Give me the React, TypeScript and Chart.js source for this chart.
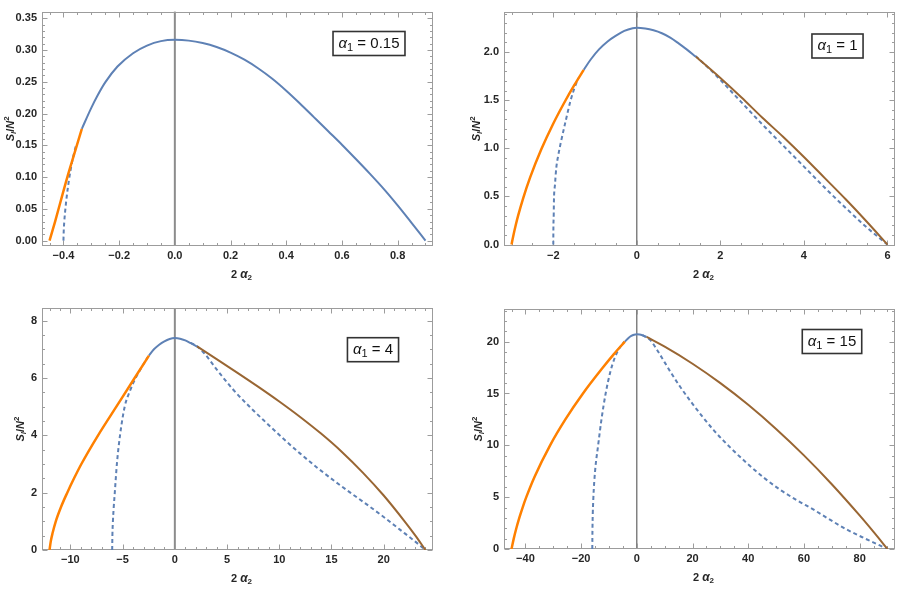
import React, { useEffect, useRef } from "react";
import { Chart, registerables } from "chart.js";
Chart.register(...registerables);

type Pt = [number, number];

// ---------------- data ----------------
// Panel 1: alpha1 = 0.15
const p1Blue: Pt[] = [[-0.334,0.176],[-0.3,0.209],[-0.278,0.228],[-0.25,0.249],[-0.206,0.274],[-0.15,0.295],[-0.1,0.307],[-0.05,0.314],[0,0.316],[0.05,0.3148],[0.1,0.311],[0.15,0.3048],[0.2,0.296],[0.25,0.2848],[0.3,0.271],[0.35,0.2548],[0.4,0.236],[0.45,0.2155],[0.5,0.194],[0.55,0.1725],[0.6,0.151],[0.65,0.1285],[0.7,0.1055],[0.75,0.0815],[0.8,0.0555],[0.85,0.028],[0.9,0]];
const p1Orange: Pt[] = [[-0.45,0],[-0.43,0.03],[-0.41,0.062],[-0.386,0.1],[-0.36,0.138],[-0.334,0.176]];
const p1DashedL: Pt[] = [[-0.4,0],[-0.399,0.015],[-0.397,0.03],[-0.393,0.05],[-0.388,0.07],[-0.381,0.093],[-0.374,0.112],[-0.366,0.13],[-0.356,0.148]];

// Panel 2: alpha1 = 1
const p2Blue: Pt[] = [[-1.272,1.815],[-1.1,1.925],[-0.9,2.03],[-0.7,2.11],[-0.5,2.17],[-0.3,2.22],[-0.1,2.248],[0,2.253],[0.2,2.245],[0.4,2.226],[0.6,2.195],[0.8,2.15],[1.0,2.09],[1.2,2.025],[1.416,1.95]];
const p2Orange: Pt[] = [[-3,0],[-2.953,0.1],[-2.9,0.2],[-2.842,0.3],[-2.72,0.483],[-2.552,0.7],[-2.287,0.989],[-2.008,1.25],[-1.712,1.494],[-1.505,1.65],[-1.272,1.815]];
const p2Brown: Pt[] = [[1.416,1.95],[2,1.73],[2.5,1.53],[3,1.32],[3.5,1.12],[4,0.91],[4.5,0.69],[5,0.47],[5.5,0.24],[6,0]];
const p2DashedL: Pt[] = [[-2,0],[-1.998,0.15],[-1.99,0.3],[-1.985,0.45],[-1.96,0.62],[-1.93,0.79],[-1.88,0.93],[-1.82,1.06],[-1.7,1.29],[-1.59,1.49],[-1.49,1.63],[-1.4,1.73]];
const p2DashedR: Pt[] = [[1.4,1.96],[1.8,1.8],[2,1.71],[2.5,1.48],[3,1.25],[3.5,1.03],[4,0.81],[4.5,0.59],[5,0.38],[5.5,0.18],[5.8,0.07],[6,0]];

// Panel 3: alpha1 = 4
const p3Blue: Pt[] = [[-2.48,6.78],[-2,7.0],[-1.5,7.16],[-1,7.28],[-0.5,7.36],[0,7.39],[0.5,7.37],[1,7.31],[1.5,7.22],[2.13,7.1]];
const p3Orange: Pt[] = [[-12,0],[-11.88,0.3],[-11.7,0.6],[-11.4,1],[-10.9,1.5],[-10.3,2],[-9.65,2.5],[-8.95,3],[-7.35,4],[-5.6,5],[-3.85,6],[-2.48,6.78]];
const p3Brown: Pt[] = [[2.13,7.1],[4,6.66],[6,6.18],[8,5.69],[10,5.18],[12,4.64],[14,4.06],[16,3.42],[18,2.7],[20,1.9],[22,1.0],[23,0.52],[24,0]];
const p3DashedL: Pt[] = [[-6,0],[-5.98,0.5],[-5.93,1],[-5.85,1.5],[-5.75,2],[-5.55,3],[-5.25,4],[-4.8,5],[-4.3,5.55],[-3.75,6],[-3.1,6.42],[-2.6,6.72]];
const p3DashedR: Pt[] = [[1.5,7.22],[2.13,7.1],[2.77,6.88],[4,6.3],[5.62,5.58],[7.2,4.98],[8.81,4.42],[10.4,3.88],[11.98,3.37],[13.6,2.88],[15.16,2.44],[16.8,2.0],[18.34,1.6],[20,1.15],[21.52,0.72],[23,0.3],[24,0]];

// Panel 4: alpha1 = 15
const p4Blue: Pt[] = [[-4.3,20.0],[-3,20.35],[-2,20.55],[-1,20.67],[0,20.72],[1,20.7],[2,20.62],[3.5,20.45]];
const p4Orange: Pt[] = [[-45,0],[-44.2,1],[-43.27,2],[-42.21,3],[-41.02,4],[-39.7,5],[-36.67,7],[-31.15,10],[-25.66,12.5],[-19.35,15],[-12.2,17.5],[-8.25,18.8],[-4.3,20]];
const p4Brown: Pt[] = [[3.5,20.45],[10,19.51],[20,17.87],[30,16.0],[40,13.91],[50,11.58],[60,9.03],[70,6.25],[80,3.24],[85,1.65],[90,0]];
const p4DashedL: Pt[] = [[-16,0],[-15.97,1],[-15.9,2.5],[-15.6,5],[-15,7.5],[-13.9,10],[-12.7,12.5],[-11.2,15],[-9.6,17],[-8,18.4],[-6.2,19.4],[-4.5,20]];
const p4DashedR: Pt[] = [[2,20.62],[3.5,20.4],[5,20.1],[7.5,19.1],[10,18.0],[12.5,16.9],[15.5,15.67],[20,14.0],[27.5,11.49],[33.5,9.8],[39.5,8.28],[45.5,6.9],[51.5,5.71],[57.5,4.7],[63.5,3.79],[69.5,2.8],[75.5,1.86],[82,1.0],[86,0.5],[90,0]];

// tick values and labels
const p1XTicks = [-0.4, -0.2, 0, 0.2, 0.4, 0.6, 0.8];
const p1XLabels = ["−0.4", "−0.2", "0.0", "0.2", "0.4", "0.6", "0.8"];
const p1YTicks = [0, 0.05, 0.1, 0.15, 0.2, 0.25, 0.3, 0.35];
const p1YLabels = ["0.00", "0.05", "0.10", "0.15", "0.20", "0.25", "0.30", "0.35"];
const p2XTicks = [-2, 0, 2, 4, 6];
const p2XLabels = ["−2", "0", "2", "4", "6"];
const p2YTicks = [0, 0.5, 1, 1.5, 2];
const p2YLabels = ["0.0", "0.5", "1.0", "1.5", "2.0"];
const p3XTicks = [-10, -5, 0, 5, 10, 15, 20];
const p3XLabels = ["−10", "−5", "0", "5", "10", "15", "20"];
const p3YTicks = [0, 2, 4, 6, 8];
const p3YLabels = ["0", "2", "4", "6", "8"];
const p4XTicks = [-40, -20, 0, 20, 40, 60, 80];
const p4XLabels = ["−40", "−20", "0", "20", "40", "60", "80"];
const p4YTicks = [0, 5, 10, 15, 20];
const p4YLabels = ["0", "5", "10", "15", "20"];

const alphaLabels = ["0.15", "1", "4", "15"];

// ---------------- styling ----------------
const BLUE = "#5E81B5";
const ORANGE = "#FF8000";
const BROWN = "#996633";
const FRAME = "#9c9c9c";
const TEXT = "#262626";
const FAM = '"Liberation Sans", Arial, sans-serif';

interface PanelCfg {
  left: number; top: number; width: number; height: number;
  area: { l: number; r: number; t: number; b: number };
  xRange: [number, number]; yRange: [number, number];
  xTicks: number[]; xLabels: string[]; xMinor: number;
  yTicks: number[]; yLabels: string[]; yMinor: number;
  alpha: string; box: [number, number]; yTitleX: number;
  zero: { color: string; width: number };
  blue: Pt[]; orange: Pt[]; brown?: Pt[]; dashed: Pt[][];
}

const panels: PanelCfg[] = [
  {
    left: 0, top: 0, width: 447, height: 290,
    area: { l: 42, r: 433, t: 5, b: 246 },
    xRange: [-0.477, 0.927], yRange: [-0.0085, 0.3605],
    xTicks: p1XTicks, xLabels: p1XLabels, xMinor: 0.05,
    yTicks: p1YTicks, yLabels: p1YLabels, yMinor: 0.01,
    alpha: alphaLabels[0], box: [369, 43.5], yTitleX: 11,
    zero: { color: "#8c8c8c", width: 2 },
    blue: p1Blue, orange: p1Orange, dashed: [p1DashedL],
  },
  {
    left: 447, top: 0, width: 450, height: 290,
    area: { l: 57, r: 448, t: 5, b: 246 },
    xRange: [-3.18, 6.18], yRange: [-0.015, 2.42],
    xTicks: p2XTicks, xLabels: p2XLabels, xMinor: 0.5,
    yTicks: p2YTicks, yLabels: p2YLabels, yMinor: 0.1,
    alpha: alphaLabels[1], box: [390.5, 46], yTitleX: 30,
    zero: { color: "#444444", width: 1 },
    blue: p2Blue, orange: p2Orange, brown: p2Brown, dashed: [p2DashedL, p2DashedR],
  },
  {
    left: 0, top: 290, width: 447, height: 301,
    area: { l: 42, r: 433, t: 18, b: 260 },
    xRange: [-12.72, 24.72], yRange: [0, 8.44],
    xTicks: p3XTicks, xLabels: p3XLabels, xMinor: 1,
    yTicks: p3YTicks, yLabels: p3YLabels, yMinor: 0.5,
    alpha: alphaLabels[2], box: [373, 59.7], yTitleX: 20.5,
    zero: { color: "#8c8c8c", width: 2 },
    blue: p3Blue, orange: p3Orange, brown: p3Brown, dashed: [p3DashedL, p3DashedR],
  },
  {
    left: 447, top: 290, width: 450, height: 301,
    area: { l: 57, r: 448, t: 19, b: 259 },
    xRange: [-47.7, 92.7], yRange: [0, 23.15],
    xTicks: p4XTicks, xLabels: p4XLabels, xMinor: 5,
    yTicks: p4YTicks, yLabels: p4YLabels, yMinor: 1,
    alpha: alphaLabels[3], box: [385, 51.5], yTitleX: 31.5,
    zero: { color: "#444444", width: 1 },
    blue: p4Blue, orange: p4Orange, brown: p4Brown, dashed: [p4DashedL, p4DashedR],
  },
];

type Run = { t: string; font: string; dy?: number };

function drawRuns(ctx: CanvasRenderingContext2D, runs: Run[], x: number, y: number) {
  let total = 0;
  for (const r of runs) { ctx.font = r.font; total += ctx.measureText(r.t).width; }
  let cx = x - total / 2;
  ctx.textBaseline = "middle";
  ctx.textAlign = "left";
  for (const r of runs) {
    ctx.font = r.font;
    ctx.fillText(r.t, cx, y + (r.dy || 0));
    cx += ctx.measureText(r.t).width;
  }
  return total;
}

function minorValues(min: number, max: number, step: number): number[] {
  const out: number[] = [];
  const start = Math.ceil(min / step - 1e-9);
  const end = Math.floor(max / step + 1e-9);
  for (let i = start; i <= end; i++) out.push(i * step);
  return out;
}

function makePlugin(cfg: PanelCfg) {
  return {
    id: "mmaFrame",
    beforeDatasetsDraw(chart: any) {
      const ctx: CanvasRenderingContext2D = chart.ctx;
      const { left, right, top, bottom } = chart.chartArea;
      const xs = chart.scales.x;
      const ys = chart.scales.y;
      ctx.save();
      // axis at x = 0
      const x0 = xs.getPixelForValue(0);
      ctx.strokeStyle = cfg.zero.color;
      ctx.lineWidth = cfg.zero.width;
      ctx.beginPath();
      ctx.moveTo(x0, top);
      ctx.lineTo(x0, bottom);
      ctx.stroke();
      // frame
      ctx.strokeStyle = FRAME;
      ctx.lineWidth = 1;
      const L = Math.round(left) + 0.5, R = Math.round(right) - 0.5;
      const T = Math.round(top) + 0.5, B = Math.round(bottom) - 0.5;
      ctx.strokeRect(L, T, R - L, B - T);
      // ticks on all four sides, pointing inward
      ctx.beginPath();
      const major = 5, minor = 2.5;
      const isMajor = (v: number, arr: number[]) => arr.some((m) => Math.abs(m - v) < 1e-9);
      for (const v of minorValues(cfg.xRange[0], cfg.xRange[1], cfg.xMinor)) {
        const len = isMajor(v, cfg.xTicks) ? major : minor;
        const px = Math.round(xs.getPixelForValue(v)) + 0.5;
        ctx.moveTo(px, B); ctx.lineTo(px, B - len);
        ctx.moveTo(px, T); ctx.lineTo(px, T + len);
      }
      for (const v of minorValues(cfg.yRange[0], cfg.yRange[1], cfg.yMinor)) {
        const len = isMajor(v, cfg.yTicks) ? major : minor;
        const py = Math.round(ys.getPixelForValue(v)) + 0.5;
        ctx.moveTo(L, py); ctx.lineTo(L + len, py);
        ctx.moveTo(R, py); ctx.lineTo(R - len, py);
      }
      ctx.stroke();
      ctx.restore();
    },
    afterDraw(chart: any) {
      const ctx: CanvasRenderingContext2D = chart.ctx;
      const { left, right, top, bottom } = chart.chartArea;
      ctx.save();
      ctx.fillStyle = TEXT;
      // y title  S_I / N^2
      ctx.save();
      ctx.translate(cfg.yTitleX, (top + bottom) / 2);
      ctx.rotate(-Math.PI / 2);
      drawRuns(ctx, [
        { t: "S", font: `italic bold 11px ${FAM}` },
        { t: "I", font: `italic bold 8px ${FAM}`, dy: 3 },
        { t: "/", font: `bold 11px ${FAM}` },
        { t: "N", font: `italic bold 11px ${FAM}` },
        { t: "2", font: `bold 8px ${FAM}`, dy: -4 },
      ], 0, 0);
      ctx.restore();
      // x title  2 alpha_2
      drawRuns(ctx, [
        { t: "2 ", font: `bold 11px ${FAM}` },
        { t: "α", font: `italic bold 12px ${FAM}` },
        { t: "2", font: `bold 8px ${FAM}`, dy: 3 },
      ], (left + right) / 2 + 4, bottom + 28.5);
      // label box
      const runs: Run[] = [
        { t: "α", font: `italic 15px ${FAM}` },
        { t: "1", font: `11px ${FAM}`, dy: 4 },
        { t: " = " + cfg.alpha, font: `15px ${FAM}` },
      ];
      let w = 0;
      for (const r of runs) { ctx.font = r.font; w += ctx.measureText(r.t).width; }
      const bw = w + 11, bh = 24;
      const [cx, cy] = cfg.box;
      ctx.fillStyle = "#ffffff";
      ctx.fillRect(cx - bw / 2, cy - bh / 2, bw, bh);
      ctx.strokeStyle = "#333333";
      ctx.lineWidth = 1.6;
      ctx.strokeRect(cx - bw / 2, cy - bh / 2, bw, bh);
      ctx.fillStyle = "#111111";
      drawRuns(ctx, runs, cx, cy);
      ctx.restore();
    },
  };
}

function lineDs(pts: Pt[], color: string, width: number, dash: number[], order: number) {
  return {
    data: pts.map(([x, y]) => ({ x, y })),
    showLine: true,
    borderColor: color,
    backgroundColor: color,
    borderWidth: width,
    borderDash: dash,
    borderCapStyle: "butt",
    borderJoinStyle: "round",
    pointRadius: 0,
    pointHoverRadius: 0,
    cubicInterpolationMode: "monotone",
    fill: false,
    order,
  };
}

function Panel({ cfg }: { cfg: PanelCfg }) {
  const ref = useRef<HTMLCanvasElement | null>(null);
  useEffect(() => {
    if (!ref.current) return;
    const datasets: any[] = [];
    for (const d of cfg.dashed) datasets.push(lineDs(d, BLUE, 2, [4, 3], 3));
    datasets.push(lineDs(cfg.blue, BLUE, 2, [], 2));
    datasets.push(lineDs(cfg.orange, ORANGE, 2.5, [], 1));
    if (cfg.brown) datasets.push(lineDs(cfg.brown, BROWN, 2, [], 1));
    const tickFont = { family: FAM, size: 11, weight: "bold" as const };
    const chart = new Chart(ref.current, {
      type: "scatter",
      data: { datasets },
      options: {
        animation: false,
        responsive: false,
        maintainAspectRatio: false,
        events: [],
        layout: {
          autoPadding: false,
          padding: { left: 0, top: cfg.area.t, right: cfg.width - cfg.area.r, bottom: 0 },
        },
        plugins: { legend: { display: false }, tooltip: { enabled: false }, title: { display: false } },
        scales: {
          x: {
            type: "linear",
            min: cfg.xRange[0],
            max: cfg.xRange[1],
            grid: { display: false, drawTicks: false },
            border: { display: false },
            ticks: {
              font: tickFont, color: TEXT, padding: 3, autoSkip: false, maxRotation: 0,
              callback: (v: any) => cfg.xLabels[cfg.xTicks.findIndex((t) => Math.abs(t - v) < 1e-9)] ?? "",
            },
            afterBuildTicks: (s: any) => { s.ticks = cfg.xTicks.map((v) => ({ value: v })); },
            afterFit: (s: any) => { s.height = cfg.height - cfg.area.b; },
          },
          y: {
            type: "linear",
            min: cfg.yRange[0],
            max: cfg.yRange[1],
            grid: { display: false, drawTicks: false },
            border: { display: false },
            ticks: {
              font: tickFont, color: TEXT, padding: 5, autoSkip: false,
              callback: (v: any) => cfg.yLabels[cfg.yTicks.findIndex((t) => Math.abs(t - v) < 1e-9)] ?? "",
            },
            afterBuildTicks: (s: any) => { s.ticks = cfg.yTicks.map((v) => ({ value: v })); },
            afterFit: (s: any) => { s.width = cfg.area.l; },
          },
        },
      } as any,
      plugins: [makePlugin(cfg) as any],
    });
    return () => chart.destroy();
  }, [cfg]);
  return (
    <canvas
      ref={ref}
      width={cfg.width}
      height={cfg.height}
      style={{ position: "absolute", left: cfg.left, top: cfg.top, width: cfg.width, height: cfg.height }}
    />
  );
}

export default function App() {
  return (
    <div style={{ position: "absolute", left: 0, top: 0, width: 897, height: 591, background: "#ffffff", overflow: "hidden" }}>
      {panels.map((p, i) => (
        <Panel key={i} cfg={p} />
      ))}
    </div>
  );
}
